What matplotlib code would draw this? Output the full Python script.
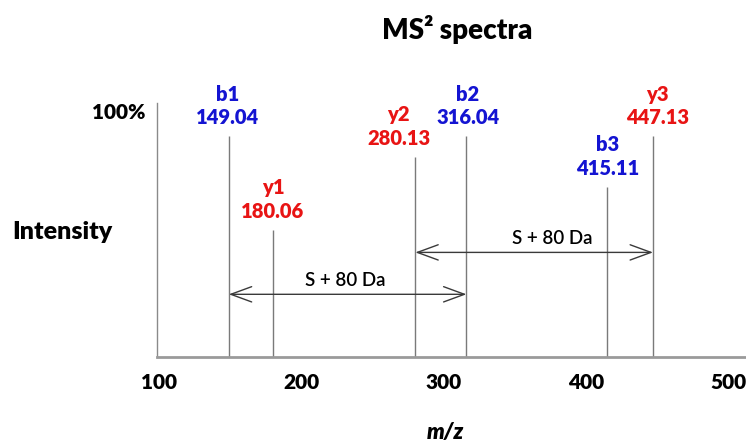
import matplotlib
matplotlib.use('Agg')
import matplotlib.pyplot as plt

# fragment ions: m/z, relative intensity (%), name, colour
ion_names = ['b1', 'y1', 'y2', 'b2', 'b3', 'y3']
ion_mz = [149.04, 180.06, 280.13, 316.04, 415.11, 447.13]
ion_int = [87, 50, 79, 87, 67, 87]
ion_type = ['b', 'y', 'y', 'b', 'b', 'y']
# label nudges in points (x) so the neighbouring labels don't collide
label_dx = [-1, 0, -12, 1, 0, 3]

# mass shifts marked with double arrows: (start ion, end ion, height %)
shifts = [('b1', 'b2', 24.8), ('y2', 'y3', 41.3)]
shift_text = 'S + 80 Da'
shift_text_dx = [-2, 13]
x_ticks = [100, 200, 300, 400, 500]

colors = {'b': '#1414d2', 'y': '#e81414'}
plt.rcParams['font.family'] = ['Lato', 'DejaVu Sans']
W = 'heavy'

fig = plt.figure(figsize=(7.46, 4.44), dpi=100)
ax = fig.add_axes([0.2105, 0.1953, 0.7895, 0.572])

ax.vlines(ion_mz, 0, ion_int, color='#7a7a7a', lw=1.0)

for name, mz, h, t, dx in zip(ion_names, ion_mz, ion_int, ion_type, label_dx):
    ax.annotate(name + '\n' + '%.2f' % mz, (mz, h), xytext=(dx, 6.5),
                textcoords='offset points', ha='center', va='bottom',
                color=colors[t], fontsize=14.5, fontweight=W,
                linespacing=1.3)

for (a, b, h), tdx in zip(shifts, shift_text_dx):
    x0 = ion_mz[ion_names.index(a)]
    x1 = ion_mz[ion_names.index(b)]
    ax.annotate('', xy=(x1, h), xytext=(x0, h),
                arrowprops=dict(arrowstyle='<->,head_length=1.5,head_width=0.55',
                                color='#3a3a3a', lw=1.0,
                                shrinkA=0, shrinkB=0))
    ax.text((x0 + x1) / 2 + tdx, h + 2.2, shift_text, ha='center', va='bottom',
            fontsize=13.5, fontweight='semibold', color='black')

ax.set_xlim(98.6, 512.5)
ax.set_ylim(0, 100)
ax.set_xticks(x_ticks)
ax.set_xticklabels([str(v) for v in x_ticks], fontsize=15, fontweight=W)
ax.tick_params(axis='x', length=0, pad=11)
ax.set_yticks([])

for s in ['top', 'right']:
    ax.spines[s].set_visible(False)
ax.spines['left'].set_color('#8a8a8a')
ax.spines['left'].set_linewidth(1.0)
ax.spines['bottom'].set_color('#9a9a9a')
ax.spines['bottom'].set_linewidth(2.0)

ax.text(-0.02, 100, '100%', transform=ax.get_yaxis_transform(),
        ha='right', va='top', fontsize=15, fontweight=W)
fig.text(12 / 746, 1 - 232 / 444, 'Intensity', ha='left', va='center',
         fontsize=18, fontweight=W)
fig.text(445 / 746, 1 - 432 / 444, 'm/z', ha='center', va='center',
         fontsize=16, fontweight=W, style='italic')
fig.text(457 / 746, 1 - 30 / 444, 'MS\u00b2 spectra', ha='center', va='center',
         fontsize=20, fontweight=W)

fig.savefig('out.png', dpi=100)
